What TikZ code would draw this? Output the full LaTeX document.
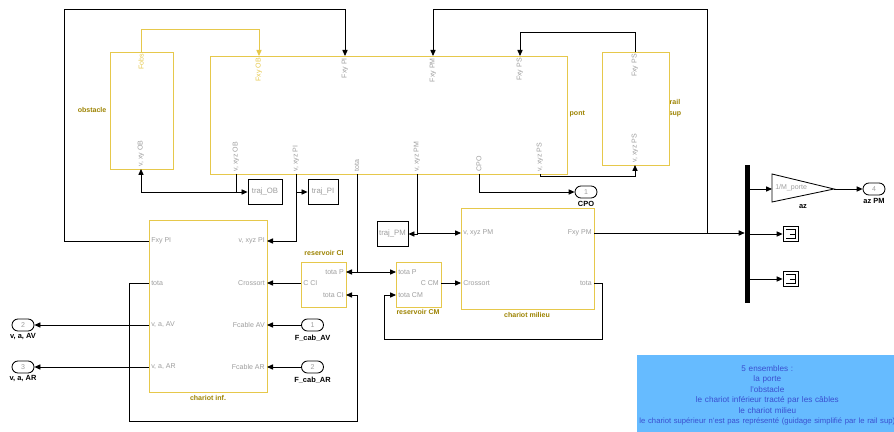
\documentclass[tikz,border=0pt]{standalone}
\usepackage{fontspec}
\setmainfont{Liberation Sans}
\usetikzlibrary{arrows.meta}
\definecolor{Jaune}{HTML}{E6C84B}
\definecolor{Olive}{HTML}{9C8200}
\definecolor{Gris}{HTML}{9E9E9E}
\definecolor{Ciel}{HTML}{66BBFF}
\definecolor{Encre}{HTML}{3A4FD0}
\tikzset{
  bloc/.style    = {rectangle, draw=Jaune, line width=0.6pt, fill=white, inner sep=0pt},
  port/.style    = {font=\fontsize{5}{6}\selectfont, text=Gris, inner sep=1.4pt},
  portj/.style   = {port, text=Jaune},
  nom/.style     = {font=\fontsize{5}{6}\selectfont\bfseries, text=Olive, inner sep=1pt, align=center},
  traj/.style    = {rectangle, draw, line width=0.6pt, fill=white, font=\fontsize{5.5}{6}\selectfont,
                    text=Gris, minimum height=0.625cm, inner sep=1pt},
  ovale/.style   = {rectangle, rounded corners=0.15cm, draw, line width=0.6pt, minimum width=0.55cm,
                    minimum height=0.3cm, inner sep=0pt, font=\fontsize{5}{6}\selectfont, text=Gris},
  etiq/.style    = {font=\fontsize{5.3}{6}\selectfont\bfseries, inner sep=0.5pt},
  oscillo/.style = {rectangle, draw, line width=0.6pt, fill=white, minimum size=0.375cm, inner sep=0pt,
                    path picture={
                      \draw[line width=0.5pt] ([shift={(2pt,-2pt)}]path picture bounding box.north west)
                        -- ([shift={(-2pt,-2pt)}]path picture bounding box.north east)
                        -- ([shift={(-2pt,2pt)}]path picture bounding box.south east)
                        -- ([shift={(2pt,2pt)}]path picture bounding box.south west);
                      \draw[line width=0.5pt] ([xshift=-0.5pt]path picture bounding box.center)
                        -- ([xshift=-2pt]path picture bounding box.east);}},
  encadre/.style = {rectangle, fill=Ciel, text=Encre, font=\fontsize{5.8}{7.4}\selectfont,
                    align=center, text width=6.3cm, minimum width=6.5cm, minimum height=2cm, inner sep=2pt},
  fil/.style     = {line width=0.6pt, -{Triangle[length=1.5mm, width=1.3mm]}},
  filj/.style    = {fil, draw=Jaune},
  lien/.style    = {line width=0.6pt},
}

\begin{document}
\begin{tikzpicture}[x=0.025cm, y=-0.025cm]
  \useasboundingbox (0,0) rectangle (894,432);
  % --- obstacle, pont, rail sup ---
  \node[nom, anchor=east] (nObst) at (108,110) {obstacle};
  \node[bloc, minimum width=1.575cm, minimum height=2.925cm] (obst) at (141.5,110.5) {};
  \node[portj, rotate=90, anchor=east] (obFobs) at (141,52) {Fobs};
  \node[port, rotate=90, anchor=west] (obVOB) at (141,169) {v, xy OB};

  \node[bloc, minimum width=8.925cm, minimum height=2.95cm] (pont) at (388.5,115) {};
  \node[nom, anchor=west] (nPont) at (568,114) {pont};
  \node[portj, rotate=90, anchor=east] (pFxyOB) at (259,56) {Fxy OB};
  \node[port, rotate=90, anchor=east] (pFxyPI) at (345,56) {Fxy PI};
  \node[port, rotate=90, anchor=east] (pFxyPM) at (433,56) {Fxy PM};
  \node[port, rotate=90, anchor=east] (pFxyPS) at (520,56) {Fxy PS};
  \node[port, rotate=90, anchor=west] (pVOB) at (236,174) {v, xyz OB};
  \node[port, rotate=90, anchor=west] (pVPI) at (296,174) {v, xyz PI};
  \node[port, rotate=90, anchor=west] (pTota) at (357,174) {tota};
  \node[port, rotate=90, anchor=west] (pVPM) at (417,174) {v, xyz PM};
  \node[port, rotate=90, anchor=west] (pCPO) at (479,174) {CPO};
  \node[port, rotate=90, anchor=west] (pVPS) at (540,174) {v, xyz PS};

  \node[nom, font=\fontsize{5}{7.8}\selectfont\bfseries] (nRail) at (675,108) {rail\\sup};
  \node[bloc, minimum width=1.675cm, minimum height=2.825cm] (railsup) at (635.5,108.5) {};
  \node[port, rotate=90, anchor=east] (rsFxyPS) at (635,52) {Fxy PS};
  \node[port, rotate=90, anchor=west] (rsVPS) at (635,165) {v, xyz PS};

  % --- trajectoires ---
  \node[traj, minimum width=0.85cm] (trajOB) at (265,192) {traj\_OB};
  \node[traj, minimum width=0.75cm] (trajPI) at (323,192) {traj\_PI};
  \node[traj, minimum width=0.775cm] (trajPM) at (392.5,234) {traj\_PM};

  % --- chariot inf. ---
  \node[bloc, minimum width=2.95cm, minimum height=4.3cm] (chinf) at (208,306) {};
  \node[nom] (nChinf) at (208,398) {chariot inf.};
  \node[port, anchor=west] (ciFxyPI) at (149,241) {Fxy PI};
  \node[port, anchor=west] (ciTota) at (149,283) {tota};
  \node[port, anchor=west] (ciVAV) at (149,325) {v, a, AV};
  \node[port, anchor=west] (ciVAR) at (149,367) {v, a, AR};
  \node[port, anchor=east] (ciVPI) at (267,241) {v, xyz PI};
  \node[port, anchor=east] (ciCross) at (267,283) {Crossort};
  \node[port, anchor=east] (ciFAV) at (267,325) {Fcable AV};
  \node[port, anchor=east] (ciFAR) at (267,367) {Fcable AR};

  % --- reservoirs ---
  \node[bloc, minimum width=1.125cm, minimum height=1.125cm] (resCI) at (323.5,284.5) {};
  \node[nom] (nResCI) at (324,253) {reservoir CI};
  \node[port, anchor=east] (rcTotaP) at (346,272) {tota P};
  \node[port, anchor=east] (rcTotaCI) at (346,295) {tota CI};
  \node[port, anchor=west] (rcCCI) at (301,283) {C CI};

  \node[bloc, minimum width=1.125cm, minimum height=1.125cm] (resCM) at (418.5,284.5) {};
  \node[nom] (nResCM) at (418,312) {reservoir CM};
  \node[port, anchor=west] (rmTotaP) at (396,272) {tota P};
  \node[port, anchor=west] (rmTotaCM) at (396,295) {tota CM};
  \node[port, anchor=east] (rmCCM) at (441,283) {C CM};

  % --- chariot milieu ---
  \node[bloc, minimum width=3.325cm, minimum height=2.525cm] (chmil) at (527.5,258.5) {};
  \node[nom] (nChmil) at (527,315) {chariot milieu};
  \node[port, anchor=west] (cmVPM) at (461,233) {v, xyz PM};
  \node[port, anchor=west] (cmCross) at (461,283) {Crossort};
  \node[port, anchor=east] (cmFxyPM) at (594,233) {Fxy PM};
  \node[port, anchor=east] (cmTota) at (594,283) {tota};

  % --- sorties et entrees ---
  \node[ovale] (oCPO) at (586,192) {1};
  \node[etiq] (lCPO) at (586,204) {CPO};
  \node[ovale] (oVAV) at (23,325) {2};
  \node[etiq] (lVAV) at (23,337) {v, a, AV};
  \node[ovale] (oVAR) at (23,367) {3};
  \node[etiq] (lVAR) at (23,379) {v, a, AR};
  \node[ovale] (iFAV) at (312.5,325) {1};
  \node[etiq] (lFAV) at (312.5,338) {F\_cab\_AV};
  \node[ovale] (iFAR) at (312.5,367) {2};
  \node[etiq] (lFAR) at (312.5,380) {F\_cab\_AR};

  % --- bus, gain, scopes ---
  \node[fill=black, inner sep=0pt, minimum width=0.125cm, minimum height=3.45cm] (bus) at (747.5,234) {};
  \draw[lien] (772,174) -- (834,189) -- (772,202) -- cycle;
  \coordinate (gainE) at (772,189);
  \coordinate (gainS) at (834,189);
  \node[port, anchor=west] (gain) at (773,188) {1/M\_porte};
  \node[etiq] (lAz) at (803,207) {az};
  \node[ovale] (oAz) at (874,189) {4};
  \node[etiq] (lAzPM) at (874,201) {az PM};
  \node[oscillo] (osc1) at (790.5,234) {};
  \node[oscillo] (osc2) at (790.5,279) {};

  % --- note ---
  \node[encadre, anchor=north west] (note) at (637,355)
       {5 ensembles :\\la porte\\l'obstacle\\le chariot inférieur tracté par les câbles\\le chariot milieu\\
        \makebox[\linewidth]{\fontsize{5.45}{7.4}\selectfont le chariot supérieur n'est pas représenté (guidage simplifié par le rail sup)}};

  % --- liaisons ---
  \draw[fil]  (ciFxyPI.west) -| (64,9) -| (pFxyPI.east);
  \coordinate (brPM) at (707,233);
  \draw[fil]  (cmFxyPM.east) -- (bus.west |- cmFxyPM.east);
  \draw[fil]  (brPM) |- (433,9) -- (pFxyPM.east);
  \draw[fil]  (rsFxyPS.east) |- (520,32) -- (pFxyPS.east);
  \draw[filj] (obFobs.east) |- (259,29) -- (pFxyOB.east);

  \coordinate (brOB) at (236,192);
  \draw[lien] (pVOB.west) -- (brOB);
  \draw[fil]  (brOB) -| (obVOB.west);
  \draw[fil]  (brOB) -- (trajOB.west);
  \draw[fil]  (pVPI.west) |- (ciVPI.east);
  \draw[fil]  (pVPI.west |- trajPI.west) -- (trajPI.west);
  \draw[fil]  (pTota.west) |- (rcTotaP.east);
  \draw[fil]  (pTota.west |- rmTotaP.west) -- (rmTotaP.west);
  \draw[fil]  (pVPM.west) |- (trajPM.east);
  \draw[fil]  (pVPM.west |- cmVPM.west) -- (cmVPM.west);
  \draw[fil]  (pCPO.west) |- (oCPO.west);
  \draw[fil]  (pVPS.west) -- ++(0,2) -| (rsVPS.west);

  \draw[fil]  (ciTota.west) -| (129,421) -| (357,295) -- (rcTotaCI.east);
  \draw[fil]  (rcCCI.west) -- (ciCross.east);
  \draw[fil]  (rmCCM.east) -- (cmCross.west);
  \draw[fil]  (cmTota.east) -| (602,339) -| (384,295) -- (rmTotaCM.west);

  \draw[fil]  (ciVAV.west) -- (oVAV.east);
  \draw[fil]  (ciVAR.west) -- (oVAR.east);
  \draw[fil]  (iFAV.west) -- (ciFAV.east);
  \draw[fil]  (iFAR.west) -- (ciFAR.east);

  \draw[fil]  (bus.east |- gainE) -- (gainE);
  \draw[fil]  (bus.east |- osc1.west) -- (osc1.west);
  \draw[fil]  (bus.east |- osc2.west) -- (osc2.west);
  \draw[fil]  (gainS) -- (oAz.west);
\end{tikzpicture}
\end{document}
